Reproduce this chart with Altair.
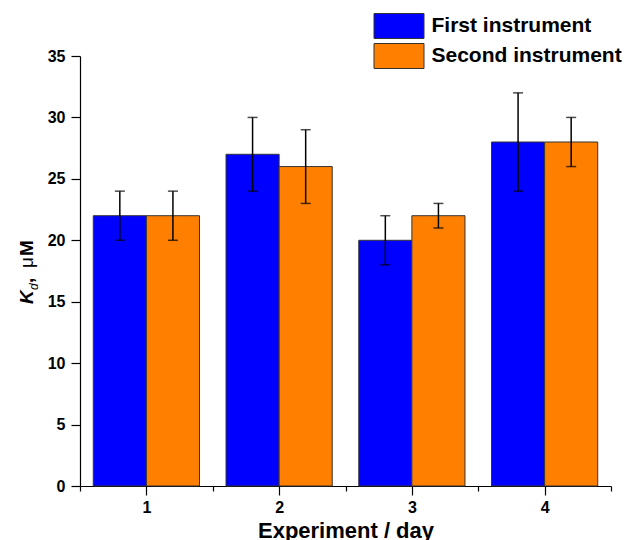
import altair as alt
import pandas as pd

days = [1, 2, 3, 4]
series_names = ["First instrument", "Second instrument"]
first_mean = [22, 27, 20, 28]
first_low = [20, 24, 18, 24]
first_high = [24, 30, 22, 32]
second_mean = [22, 26, 22, 28]
second_low = [20, 23, 21, 26]
second_high = [24, 29, 23, 30]
colors = ["#0000FF", "#FF8000"]
x_ticks = [0.5, 1, 1.5, 2, 2.5, 3, 3.5, 4, 4.5]
y_ticks = [0, 2.5, 5, 7.5, 10, 12.5, 15, 17.5, 20, 22.5, 25, 27.5, 30, 32.5, 35]

rows = []
for i, d in enumerate(days):
    rows.append(dict(series=series_names[0], idx=0, day=d, value=first_mean[i], lo=first_low[i], hi=first_high[i]))
    rows.append(dict(series=series_names[1], idx=1, day=d, value=second_mean[i], lo=second_low[i], hi=second_high[i]))
df = pd.DataFrame(rows)

FONT = "Liberation Sans"

base = alt.Chart(df).transform_calculate(
    x0="datum.day - 0.4 + 0.4 * datum.idx",
    x1="datum.day + 0.4 * datum.idx",
    xc="datum.day - 0.2 + 0.4 * datum.idx",
)

xaxis = alt.Axis(
    values=x_ticks,
    labelExpr="datum.value % 1 == 0 ? '' + datum.value : ''",
    tickSize={"condition": {"test": "datum.value % 1 != 0", "value": 5}, "value": 9},
    title="Experiment / day",
    labelFontSize=16, labelFontWeight="bold", titleFontSize=22, titleFontWeight="bold",
    labelPadding=4, titlePadding=5, grid=False, labelFlush=False, labelOverlap=False,
)
yaxis = alt.Axis(
    values=y_ticks,
    labelExpr="datum.value % 5 == 0 ? '' + datum.value : ''",
    tickSize={"condition": {"test": "datum.value % 5 != 0", "value": 5}, "value": 9},
    title=None,
    labelFontSize=16, labelFontWeight="bold",
    labelPadding=6, grid=False, labelOverlap=False,
)
xscale = alt.Scale(domain=[0.5, 4.5], nice=False, zero=False, padding=0)
yscale = alt.Scale(domain=[0, 35], nice=False, padding=0)

bars = base.mark_bar(stroke="#333333", strokeWidth=1, opacity=1).encode(
    x=alt.X("x0:Q", scale=xscale, axis=xaxis),
    x2="x1:Q",
    y=alt.Y("value:Q", scale=yscale, axis=yaxis),
    y2=alt.datum(0),
    color=alt.Color(
        "series:N",
        scale=alt.Scale(domain=series_names, range=colors),
        legend=alt.Legend(
            title=None, orient="none", legendX=306, legendY=-43,
            symbolType="M-2,-1H2V1H-2Z", symbolSize=625,
            symbolStrokeColor="#333333", symbolStrokeWidth=1, symbolOpacity=1,
            labelFont=FONT, labelFontSize=21, labelFontWeight="bold", labelColor="black",
            labelOffset=19.5, rowPadding=0, padding=0, labelLimit=400,
        ),
    ),
)

rules = base.mark_rule(color="black", strokeWidth=1.5).encode(
    x="xc:Q", y="lo:Q", y2="hi:Q"
)
caps_lo = base.mark_tick(color="black", orient="horizontal", size=10, thickness=1.5).encode(
    x="xc:Q", y="lo:Q"
)
caps_hi = base.mark_tick(color="black", orient="horizontal", size=10, thickness=1.5).encode(
    x="xc:Q", y="hi:Q"
)

one = alt.Data(values=[{"a": 1}])


def label(txt, x, y, size, weight="bold", style="normal"):
    return alt.Chart(one).mark_text(
        text=txt, angle=270, align="left", baseline="alphabetic",
        font=FONT, fontSize=size, fontWeight=weight, fontStyle=style, color="black",
    ).encode(x=alt.value(x), y=alt.value(y))


t_k = label("K", -47.5, 248, 19, "bold", "italic")
t_d = label("d", -42, 234, 12, "normal", "italic")
t_c = label(",", -47.5, 227, 19, "bold")
t_mu = label("μ", -47.5, 212, 19, "normal")
t_m = label("M", -47.5, 200, 19, "bold")

chart = alt.layer(bars, rules, caps_lo, caps_hi, t_k, t_d, t_c, t_mu, t_m).properties(
    width=531, height=430,
    autosize=alt.AutoSizeParams(type="none"),
    padding={"left": 72, "top": 48, "right": 14, "bottom": 70},
).configure(font=FONT).configure_view(stroke=None).configure_axis(
    domainColor="black", tickColor="black", labelColor="black", titleColor="black",
    domainWidth=1.2, tickWidth=1.2, labelFont=FONT, titleFont=FONT,
)

chart.save("out.html", embed_options={"renderer": "svg", "actions": False})
